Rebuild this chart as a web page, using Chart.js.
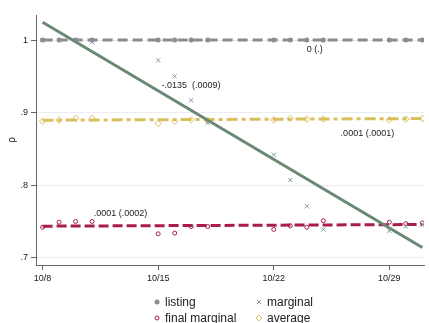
<!DOCTYPE html>
<html>
<head>
<meta charset="utf-8">
<script src="https://cdn.jsdelivr.net/npm/chart.js@4.4.1/dist/chart.umd.min.js"></script>
<style>
  html, body { margin: 0; padding: 0; background: #fff; }
  #wrap { position: relative; width: 429px; height: 323px; }
</style>
</head>
<body>
<div id="wrap"><canvas id="c" width="429" height="323"></canvas></div>
<script>
// Trading days in October
const days = [8, 9, 10, 11, 15, 16, 17, 18, 22, 23, 24, 25, 29, 30, 31];

// Daily correlation estimates per measure
const listing       = [1, 1, 1, 1, 1, 1, 1, 1, 1, 1, 1, 1, 1, 1, 1];
const marginal      = [1.0, 1.0, 1.0, 0.997, 0.972, 0.950, 0.917, 0.886, 0.842, 0.807, 0.771, 0.739, 0.737, 0.743, 0.745];
const finalMarginal = [0.742, 0.749, 0.750, 0.750, 0.733, 0.734, 0.743, 0.743, 0.739, 0.744, 0.742, 0.751, 0.749, 0.747, 0.748];
const average       = [0.888, 0.890, 0.892, 0.892, 0.885, 0.888, 0.890, 0.889, 0.890, 0.892, 0.891, 0.891, 0.890, 0.891, 0.892];

// Linear trend per measure: value at first day and slope per day
const fitStart = { listing: 1.0, marginal: 1.0245, finalMarginal: 0.7435, average: 0.8895 };
const fitSlope = { listing: 0, marginal: -0.0135, finalMarginal: 0.0001, average: 0.0001 };

// Slope (standard error) labels and where they sit (day, value)
const coefLabels = ["0 (.)", "-.0135  (.0009)", ".0001 (.0001)", ".0001 (.0002)"];
const coefDays   = [24.0, 15.2, 26.05, 11.1];
const coefValues = [0.9876, 0.938, 0.8716, 0.761];

// Axis ticks
const xTicks = [8, 15, 22, 29];
const xTickLabels = ["10/8", "10/15", "10/22", "10/29"];
const yTicks = [0.7, 0.8, 0.9, 1.0];
const yTickLabels = [".7", ".8", ".9", "1"];

const C = {
  listing: '#8c8c8c',
  marginalLine: '#6b8873',
  marginalPt: '#8497a0',
  finalMarginal: '#a81d4a',
  average: '#d8bf5c'
};

const firstDay = days[0], lastDay = days[days.length - 1];
function fitLine(key) {
  return [
    { x: firstDay, y: fitStart[key] },
    { x: lastDay, y: fitStart[key] + fitSlope[key] * (lastDay - firstDay) }
  ];
}
const pts = arr => days.map((d, i) => ({ x: d, y: arr[i] }));

const legendItems = [
  { text: 'listing', style: 'circle', color: C.listing, fill: true },
  { text: 'marginal', style: 'cross', color: C.marginalPt },
  { text: 'final marginal', style: 'circle', color: C.finalMarginal, fill: false },
  { text: 'average', style: 'diamond', color: C.average }
];

function drawMarker(ctx, style, x, y, color, fill) {
  ctx.save();
  ctx.strokeStyle = color;
  ctx.fillStyle = color;
  ctx.lineWidth = 1;
  ctx.beginPath();
  if (style === 'circle') {
    ctx.arc(x, y, fill ? 2.5 : 2, 0, Math.PI * 2);
    fill ? ctx.fill() : ctx.stroke();
  } else if (style === 'cross') {
    const r = 2.2;
    ctx.moveTo(x - r, y - r); ctx.lineTo(x + r, y + r);
    ctx.moveTo(x - r, y + r); ctx.lineTo(x + r, y - r);
    ctx.stroke();
  } else if (style === 'diamond') {
    const r = 3;
    ctx.moveTo(x, y - r); ctx.lineTo(x + r, y); ctx.lineTo(x, y + r); ctx.lineTo(x - r, y);
    ctx.closePath();
    ctx.stroke();
  }
  ctx.restore();
}

const extras = {
  id: 'extras',
  afterDatasetsDraw(chart) {
    const { ctx, scales: { x, y } } = chart;
    ctx.save();
    ctx.font = '9px "Liberation Sans", Arial, sans-serif';
    ctx.fillStyle = '#222';
    ctx.textBaseline = 'middle';
    ctx.textAlign = 'left';
    coefLabels.forEach((t, i) => {
      ctx.fillText(t, x.getPixelForValue(coefDays[i]), y.getPixelForValue(coefValues[i]));
    });
    ctx.restore();
  },
  afterDraw(chart) {
    const { ctx } = chart;
    ctx.save();
    ctx.font = '12px "Liberation Sans", Arial, sans-serif';
    ctx.fillStyle = '#222';
    ctx.textBaseline = 'middle';
    ctx.textAlign = 'left';
    const colX = [157, 259];
    const rowY = [302, 318];
    legendItems.forEach((it, i) => {
      const cx = colX[i % 2], cy = rowY[Math.floor(i / 2)];
      drawMarker(ctx, it.style, cx, cy, it.color, it.fill);
      ctx.fillText(it.text, cx + 8, cy + 0.5);
    });
    ctx.restore();
  }
};

new Chart(document.getElementById('c'), {
  type: 'scatter',
  data: {
    datasets: [
      { data: fitLine('marginal'), type: 'line', borderColor: C.marginalLine, borderWidth: 3, pointRadius: 0, fill: false, order: 1 },
      { data: pts(marginal), pointStyle: 'crossRot', pointRadius: 3, borderColor: C.marginalPt, borderWidth: 1, order: 2 },
      { data: fitLine('listing'), type: 'line', borderColor: C.listing, borderWidth: 3, borderDash: [10, 5], pointRadius: 0, fill: false, order: 3 },
      { data: pts(listing), pointStyle: 'circle', pointRadius: 2.5, backgroundColor: C.listing, borderColor: C.listing, borderWidth: 0, order: 4 },
      { data: fitLine('average'), type: 'line', borderColor: C.average, borderWidth: 3, borderDash: [11, 4, 4, 4], pointRadius: 0, fill: false, order: 5 },
      { data: pts(average), pointStyle: 'rectRot', pointRadius: 3.2, backgroundColor: '#fff', borderColor: C.average, borderWidth: 1, order: 6 },
      { data: fitLine('finalMarginal'), type: 'line', borderColor: C.finalMarginal, borderWidth: 3, borderDash: [10, 4], pointRadius: 0, fill: false, order: 7 },
      { data: pts(finalMarginal), pointStyle: 'circle', pointRadius: 2, backgroundColor: '#fff', borderColor: C.finalMarginal, borderWidth: 1, order: 8 }
    ]
  },
  options: {
    responsive: false,
    animation: false,
    devicePixelRatio: 1,
    layout: { padding: { top: 15, right: 0, bottom: 38, left: 0 } },
    plugins: { legend: { display: false }, tooltip: { enabled: false } },
    scales: {
      x: {
        type: 'linear',
        min: 7.6,
        max: 31.1,
        afterBuildTicks: s => { s.ticks = xTicks.map(v => ({ value: v })); },
        afterFit: s => { s.height = 20; },
        ticks: {
          autoSkip: false,
          maxRotation: 0,
          padding: 3,
          color: '#1a1a1a',
          font: { family: '"Liberation Sans", Arial, sans-serif', size: 9 },
          callback: v => xTickLabels[xTicks.indexOf(v)]
        },
        grid: { drawOnChartArea: false, drawTicks: true, tickLength: 5, tickColor: '#666' },
        border: { display: true, color: '#666', width: 1 }
      },
      y: {
        min: 0.69,
        max: 1.0345,
        afterBuildTicks: s => { s.ticks = yTicks.map(v => ({ value: v })); },
        afterFit: s => { s.width = 36; },
        ticks: {
          padding: 3,
          color: '#1a1a1a',
          font: { family: '"Liberation Sans", Arial, sans-serif', size: 9 },
          callback: v => yTickLabels[yTicks.findIndex(t => Math.abs(t - v) < 1e-6)]
        },
        grid: { color: '#e9edf0', lineWidth: 1, drawTicks: true, tickLength: 5, tickColor: '#666' },
        border: { display: true, color: '#666', width: 1 },
        title: {
          display: true,
          text: 'ρ',
          color: '#222',
          font: { family: '"Liberation Sans", Arial, sans-serif', size: 10 },
          padding: { top: 6, bottom: 0 }
        }
      }
    }
  },
  plugins: [extras]
});
</script>
</body>
</html>
